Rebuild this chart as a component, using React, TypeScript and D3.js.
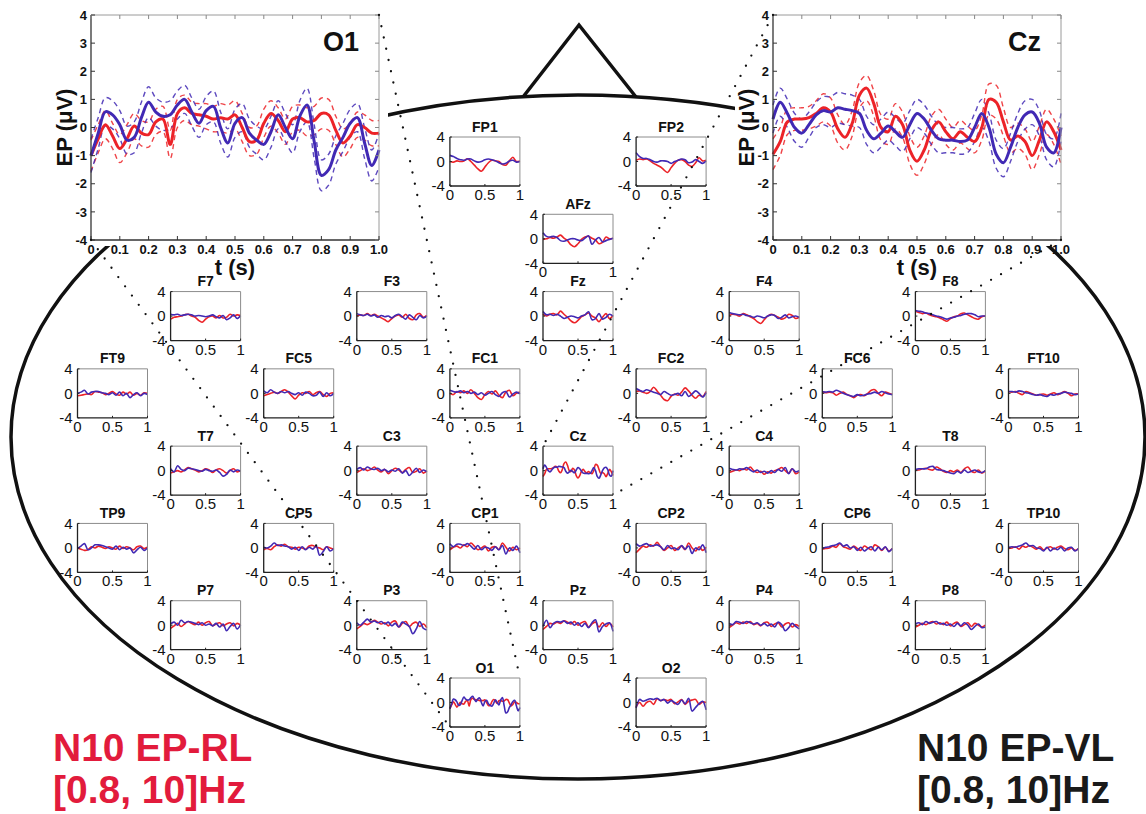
import React from 'react';
import * as d3 from 'd3';

// ---- data ----------------------------------------------------------------
// sample times (s)
const miniTimes = [0, 0.05, 0.1, 0.15, 0.2, 0.25, 0.3, 0.35, 0.4, 0.45, 0.5,
  0.55, 0.6, 0.65, 0.7, 0.75, 0.8, 0.85, 0.9, 0.95, 1];
const insetTimes = [0, 0.025, 0.05, 0.075, 0.1, 0.125, 0.15, 0.175, 0.2, 0.225,
  0.25, 0.275, 0.3, 0.325, 0.35, 0.375, 0.4, 0.425, 0.45, 0.475, 0.5, 0.525,
  0.55, 0.575, 0.6, 0.625, 0.65, 0.675, 0.7, 0.725, 0.75, 0.775, 0.8, 0.825,
  0.85, 0.875, 0.9, 0.925, 0.95, 0.975, 1];

// enlarged channels: mean EP (uV) and half width of the dashed band
const o1Blue = [-1.0, -0.2, 0.56, 0.45, 0.1, -0.45, -0.35, 0.35, 0.9, 0.55, 0.4, 0.45, 0.8, 1.0, 0.55, 0.15, 0.6, 0.75, 0.0, -0.55, 0.15, 0.35, -0.2, -0.45, -0.6, -0.15, 0.45, 0.0, -0.4, 0.4, 0.8, -0.5, -1.7, -1.5, -0.8, -0.35, 0.15, 0.35, -0.55, -1.35, -0.8];
const o1Red = [-1.0, -0.4, 0.1, -0.3, -0.75, -0.4, 0.05, -0.2, -0.25, 0.2, 0.3, -0.6, 0.5, 0.7, 0.5, 0.45, 0.4, 0.3, 0.35, 0.3, 0.45, 0.0, -0.5, -0.45, 0.15, 0.5, 0.25, -0.15, 0.3, 0.35, 0.2, 0.25, 0.5, 0.45, -0.1, -0.55, -0.3, 0.1, 0.0, -0.2, -0.2];
const o1BlueHw = [0.6, 0.55, 0.5, 0.5, 0.5, 0.5, 0.55, 0.55, 0.55, 0.5, 0.5, 0.5, 0.5, 0.5, 0.5, 0.5, 0.5, 0.55, 0.55, 0.5, 0.5, 0.5, 0.5, 0.5, 0.55, 0.55, 0.5, 0.5, 0.5, 0.55, 0.6, 0.6, 0.55, 0.55, 0.5, 0.5, 0.5, 0.5, 0.55, 0.55, 0.6];
const o1RedHw = [0.55, 0.5, 0.5, 0.45, 0.5, 0.5, 0.45, 0.45, 0.45, 0.45, 0.45, 0.5, 0.5, 0.45, 0.4, 0.4, 0.45, 0.45, 0.5, 0.5, 0.5, 0.5, 0.5, 0.5, 0.5, 0.45, 0.45, 0.45, 0.45, 0.45, 0.5, 0.5, 0.55, 0.55, 0.5, 0.5, 0.45, 0.45, 0.45, 0.45, 0.45];
const czBlue = [0.3, 0.9, 0.5, 0.0, -0.2, 0.1, 0.45, 0.6, 0.55, 0.7, 0.65, 0.6, 0.5, -0.1, -0.4, -0.2, 0.05, -0.15, -0.35, 0.1, 0.5, 0.3, -0.1, -0.4, -0.45, -0.45, -0.5, -0.45, 0.0, 0.5, 0.0, -0.95, -1.25, -0.7, 0.0, 0.45, 0.55, 0.15, -0.7, -0.9, 0.0];
const czRed = [-0.95, -0.5, 0.2, 0.3, 0.3, 0.35, 0.5, 0.7, 0.55, -0.05, -0.35, 0.15, 1.15, 1.4, 0.85, 0.0, -0.15, 0.4, 0.1, -0.8, -1.2, -0.8, -0.1, 0.2, -0.15, -0.4, -0.15, -0.35, -0.5, 0.0, 1.0, 0.9, 0.2, -0.45, -0.3, -0.5, -1.0, -0.45, 0.2, -0.15, -0.8];
const czBlueHw = [0.5, 0.5, 0.5, 0.5, 0.5, 0.45, 0.45, 0.5, 0.55, 0.55, 0.55, 0.55, 0.5, 0.5, 0.5, 0.5, 0.5, 0.5, 0.5, 0.5, 0.5, 0.5, 0.5, 0.5, 0.45, 0.45, 0.45, 0.45, 0.5, 0.5, 0.5, 0.5, 0.5, 0.5, 0.5, 0.5, 0.45, 0.45, 0.45, 0.5, 0.5];
const czRedHw = [0.55, 0.5, 0.45, 0.4, 0.4, 0.4, 0.45, 0.5, 0.5, 0.5, 0.45, 0.45, 0.45, 0.45, 0.45, 0.45, 0.45, 0.45, 0.45, 0.5, 0.5, 0.5, 0.5, 0.45, 0.45, 0.4, 0.4, 0.4, 0.4, 0.45, 0.55, 0.6, 0.5, 0.45, 0.45, 0.45, 0.5, 0.5, 0.45, 0.45, 0.5];

// all other channels (uV at miniTimes)
const fp1Blue = [1.0, 0.8, 0.5, 0.3, 0.2, 0.4, 0.4, 0.1, -0.1, 0.0, 0.3, 0.4, 0.3, 0.1, -0.2, -0.4, -0.3, 0.1, 0.2, -0.1, 0.0];
const fp1Red = [0.0, -0.1, 0.1, 0.0, 0.1, 0.45, 0.0, -0.6, -1.2, -1.6, -0.9, -0.2, 0.2, 0.1, 0.0, -0.5, -0.6, 0.1, 0.7, 0.0, 0.1];
const fp2Blue = [1.45, 0.8, 0.5, 0.5, 0.3, 0.0, -0.1, 0.1, 0.1, 0.0, -0.3, 0.0, 0.2, 0.4, 0.3, -0.2, -0.1, 0.3, 0.0, -0.3, 0.1];
const fp2Red = [0.2, 0.4, 0.3, 0.4, 0.1, -0.3, -0.6, -0.9, -1.4, -1.8, -1.0, -0.3, 0.2, 0.3, 0.0, -0.6, -0.8, -0.2, 0.6, 0.1, 0.2];
const afzBlue = [1.0, 0.4, 0.3, 0.4, 0.2, -0.3, -0.4, -0.2, 0.0, 0.0, -0.2, -0.3, 0.1, 0.5, -0.9, -0.2, 0.2, -0.5, -0.3, -0.1, 0.1];
const afzRed = [-0.1, 0.0, 0.2, 0.1, 0.3, 0.6, 0.1, -0.3, -1.0, -1.3, -0.8, -0.1, 0.3, 0.4, 0.1, -0.2, -0.8, -0.6, 0.3, 0.0, 0.1];
const f7Blue = [0.3, 0.2, 0.3, 0.1, 0.2, 0.3, 0.2, 0.0, 0.1, 0.0, -0.1, 0.0, 0.2, -0.1, -0.3, 0.1, -0.6, -0.3, 0.2, -0.4, 0.1];
const f7Red = [-0.5, -0.2, -0.1, 0.0, 0.2, 0.3, 0.0, -0.2, -0.7, -1.0, -0.5, -0.1, 0.0, -0.3, 0.1, -0.3, -0.2, 0.3, 0.0, 0.2, 0.1];
const f3Blue = [0.4, 0.2, 0.1, 0.3, 0.0, 0.2, -0.2, 0.1, -0.1, 0.0, -0.3, 0.1, 0.3, -0.1, -0.5, 0.2, -0.2, -0.6, 0.1, -0.3, 0.0];
const f3Red = [0.0, 0.2, 0.1, 0.4, 0.1, 0.3, 0.0, -0.3, -0.6, -0.9, -0.4, 0.0, 0.2, -0.2, 0.3, -0.4, -0.6, 0.2, 0.4, -0.2, 0.1];
const fzBlue = [0.75, 0.2, 0.3, 0.1, 0.3, 0.0, -0.4, -0.2, 0.0, -0.1, -0.3, 0.0, 0.2, 0.7, -0.6, -0.4, 0.4, -0.5, -0.2, 0.3, 0.0];
const fzRed = [0.3, 0.0, 0.3, 0.4, 0.2, 0.8, 0.3, -0.2, -0.8, -1.1, -0.7, -0.1, 0.2, 0.5, 0.0, -0.3, -0.9, -0.2, 0.4, -0.4, 0.1];
const f4Blue = [0.6, 0.4, 0.3, 0.2, 0.3, 0.1, 0.0, -0.2, 0.0, -0.1, -0.3, 0.0, 0.2, 0.1, -0.4, -0.2, 0.2, -0.3, -0.1, 0.0, -0.2];
const f4Red = [0.1, 0.3, 0.2, 0.0, 0.4, 0.2, -0.1, -0.4, -0.9, -1.2, -0.6, 0.0, 0.3, 0.1, -0.2, -0.5, -0.3, 0.3, 0.1, -0.4, -0.2];
const f8Blue = [0.9, 0.8, 0.7, 0.5, 0.4, 0.2, 0.0, -0.1, -0.3, -0.5, -0.3, -0.2, 0.0, 0.1, 0.3, 0.4, 0.4, 0.2, -0.1, 0.0, 0.0];
const f8Red = [0.8, 0.6, 0.4, 0.5, 0.2, 0.0, -0.1, -0.3, -0.6, -0.85, -0.4, -0.1, 0.0, 0.4, 0.5, 0.2, -0.1, -0.4, -0.5, -0.1, 0.0];
const ft9Blue = [0.0, 0.2, 0.5, -0.1, 0.2, 0.3, 0.3, 0.1, 0.0, -0.2, 0.1, -0.3, 0.2, -0.4, 0.0, -0.7, -0.2, 0.1, -0.4, 0.0, -0.2];
const ft9Red = [-0.4, -0.3, -0.2, -0.1, -0.2, 0.3, 0.2, 0.1, -0.2, 0.0, 0.3, -0.1, -0.3, 0.2, -0.1, 0.2, -0.3, 0.0, -0.3, 0.1, 0.0];
const fc5Blue = [0.4, 0.1, 0.6, 0.2, 0.0, 0.3, 0.1, 0.3, 0.0, -0.2, 0.1, -0.3, 0.2, 0.0, -0.4, -0.3, 0.2, -0.5, 0.1, -0.4, 0.0];
const fc5Red = [-0.4, -0.2, 0.0, 0.2, 0.0, 0.3, 0.6, 0.2, -0.4, -0.9, -0.3, 0.1, 0.0, 0.3, -0.2, 0.1, 0.3, -0.2, -0.5, 0.0, 0.1];
const fc1Blue = [0.5, 0.3, 0.2, 0.4, 0.1, 0.3, 0.0, 0.2, -0.2, 0.1, -0.3, 0.0, 0.3, -0.2, -0.5, 0.1, 0.3, -0.6, -0.1, 0.2, -0.1];
const fc1Red = [0.0, -0.2, 0.3, 0.1, 0.4, 0.0, 0.6, 0.0, -0.7, -1.0, -0.2, 0.3, -0.1, 0.4, -0.3, -0.7, 0.2, 0.5, -0.4, 0.0, 0.2];
const fc2Blue = [0.8, 0.5, 0.3, 0.6, 0.4, 0.2, 0.0, -0.2, 0.3, 0.0, -0.3, -0.2, 0.0, -0.4, 0.3, -0.5, -0.1, 0.4, 0.0, -0.6, 0.1];
const fc2Red = [0.3, 0.4, 0.2, 0.0, 0.3, 1.0, 0.4, -0.3, -1.0, -1.2, -0.5, -0.1, -0.3, 0.2, 0.9, 0.4, -0.3, -0.8, -0.3, -0.5, 0.3];
const fc6Blue = [0.3, 0.2, 0.3, 0.2, 0.5, 0.3, 0.0, -0.2, -0.4, -0.5, -0.2, -0.4, -0.3, -0.1, 0.0, 0.2, 0.0, 0.3, 0.1, -0.1, -0.2];
const fc6Red = [0.3, 0.1, 0.2, 0.1, -0.3, 0.0, 0.2, -0.2, -0.4, -0.7, -0.3, -0.2, -0.4, 0.0, 0.5, 0.6, 0.0, -0.4, 0.2, 0.0, -0.2];
const ft10Blue = [0.3, 0.3, 0.2, 0.4, 0.3, 0.1, 0.0, -0.2, -0.3, -0.2, -0.4, -0.5, -0.2, -0.3, -0.1, 0.0, 0.2, 0.1, 0.0, -0.2, -0.1];
const ft10Red = [0.3, 0.2, 0.3, 0.0, -0.2, 0.3, 0.1, -0.1, -0.3, -0.2, -0.1, -0.3, -0.1, 0.1, -0.2, 0.0, 0.3, 0.0, -0.4, -0.1, -0.1];
const t7Blue = [0.3, -0.2, 0.8, 0.2, 0.0, 0.4, 0.3, 0.2, 0.0, -0.1, 0.2, 0.0, -0.1, 0.1, -0.3, -0.9, -0.6, 0.1, -0.2, 0.1, -0.1];
const t7Red = [-0.4, -0.2, 0.0, -0.2, 0.1, 0.5, 0.3, 0.1, -0.2, 0.0, 0.3, 0.1, -0.3, 0.1, 0.3, 0.0, -0.4, 0.0, 0.3, -0.2, 0.0];
const c3Blue = [0.2, 0.5, 0.1, 0.6, 0.3, 0.2, 0.4, 0.0, 0.2, -0.2, 0.1, -0.1, 0.3, -0.4, 0.0, -0.8, -0.2, 0.4, -0.3, 0.1, -0.2];
const c3Red = [-0.3, 0.0, 0.3, 0.0, 0.2, 0.6, 0.1, -0.2, 0.2, -0.5, 0.0, 0.4, 0.1, -0.3, 0.2, 0.5, -0.3, -0.1, 0.3, -0.4, 0.0];
const c4Blue = [0.4, 0.2, 0.1, 0.3, 0.2, 0.5, 0.1, -0.2, 0.1, -0.3, -0.1, -0.4, 0.0, -0.3, 0.2, -0.1, 0.5, -0.5, 0.3, -0.2, 0.0];
const c4Red = [-0.3, -0.1, 0.1, 0.0, 0.3, 0.1, 0.6, 0.0, -0.3, -0.1, -0.6, -0.2, -0.4, 0.0, 0.2, 0.5, 0.0, -0.4, 0.3, -0.5, -0.2];
const t8Blue = [0.2, 0.3, 0.3, 0.3, 0.6, 0.7, 0.2, 0.1, 0.0, -0.2, -0.4, -0.5, -0.1, -0.4, 0.1, -0.3, -0.1, 0.1, -0.2, -0.3, 0.0];
const t8Red = [0.2, 0.1, 0.3, 0.4, 0.2, 0.1, 0.6, 0.3, -0.1, -0.3, 0.0, -0.2, 0.1, -0.3, 0.3, 0.6, -0.1, -0.3, 0.1, -0.4, 0.0];
const tp9Blue = [-0.1, 0.3, 0.7, -0.3, 0.0, 0.5, 0.5, 0.4, 0.2, 0.0, -0.2, 0.3, -0.3, 0.1, -0.2, 0.0, -0.8, -0.3, 0.1, -0.4, 0.0];
const tp9Red = [0.0, -0.2, -0.4, -0.3, 0.2, 0.0, 0.3, 0.1, -0.1, 0.2, 0.0, -0.2, 0.3, -0.1, 0.2, 0.0, -0.3, 0.2, 0.3, -0.1, 0.1];
const cp5Blue = [0.1, 0.0, 0.3, 0.8, 0.4, 0.5, 0.3, 0.2, -0.2, 0.1, -0.4, 0.2, -0.3, 0.1, -0.2, 0.3, -1.2, -0.6, 0.2, -0.5, -0.1];
const cp5Red = [-0.3, -0.1, -0.3, 0.2, 0.5, 0.3, 0.6, 0.2, 0.1, -0.2, 0.1, 0.0, -0.2, 0.3, 0.4, 0.1, 0.0, -0.3, 0.2, 0.0, -0.2];
const cp1Blue = [0.7, 0.2, 0.6, 0.6, 0.4, 0.7, 0.3, -0.2, 0.4, -0.3, 0.1, 0.0, -0.4, 0.2, -0.3, 0.4, -1.0, 0.0, -0.4, 0.3, -0.8];
const cp1Red = [-0.3, 0.1, 0.3, 0.0, 0.5, 0.2, 0.8, 0.3, -0.3, 0.0, 0.3, -0.5, 0.1, 0.2, -0.3, 0.8, 0.1, -0.5, 0.1, -0.3, 0.0];
const cp2Blue = [0.7, 0.3, 0.5, 0.7, 0.3, 0.4, 0.5, 0.2, -0.3, 0.4, -0.1, 0.0, -0.3, 0.4, -0.2, 0.3, -0.9, 0.0, -0.3, 0.5, -0.8];
const cp2Red = [-0.8, -0.2, 0.3, 0.1, 0.5, 0.3, 0.9, 0.2, -0.4, 0.0, 0.4, -0.4, 0.0, 0.3, -0.3, 0.8, 0.0, -0.5, 0.2, -0.4, 0.1];
const cp6Blue = [-0.1, 0.1, 0.2, 0.4, 0.5, 0.8, 0.3, 0.5, 0.0, 0.2, -0.4, 0.1, -0.5, -0.1, 0.2, -0.5, 0.1, -0.3, 0.2, -0.6, -0.1];
const cp6Red = [-0.2, -0.1, 0.0, 0.3, 0.1, 0.7, 0.2, 0.0, -0.2, 0.3, -0.1, -0.4, 0.3, 0.0, -0.3, 0.5, 0.2, -0.4, 0.1, -0.5, -0.1];
const tp10Blue = [0.1, 0.2, 0.1, 0.3, 0.5, 0.8, 0.3, 0.4, 0.0, -0.1, -0.5, 0.1, -0.5, 0.0, -0.3, 0.1, -0.5, 0.0, 0.1, -0.5, -0.1];
const tp10Red = [-0.1, 0.0, 0.2, -0.2, 0.3, 0.1, 0.4, 0.1, -0.2, 0.2, -0.3, 0.0, 0.2, -0.2, 0.1, 0.3, -0.1, -0.3, 0.0, -0.4, -0.1];
const p7Blue = [0.2, 0.5, 0.0, 0.8, 0.4, 0.6, 0.5, 0.3, 0.1, 0.4, 0.0, 0.2, -0.1, 0.3, -0.3, 0.2, -0.9, -0.2, 0.3, -0.6, 0.1];
const p7Red = [-0.5, -0.1, 0.3, -0.2, 0.2, 0.6, 0.3, 0.1, 0.5, 0.0, 0.4, 0.6, -0.1, 0.2, 0.4, -0.1, 0.2, 0.4, -0.1, 0.3, 0.0];
const p3Blue = [0.4, 0.0, 0.5, 1.0, 0.5, 0.7, 0.4, 0.6, 0.2, 0.5, -0.1, 0.3, -0.3, 0.5, 0.2, -0.2, -1.4, -0.6, 0.6, -0.5, -0.8];
const p3Red = [-0.6, -0.2, 0.3, 0.1, 0.4, 0.8, 0.5, 0.2, 0.4, -0.1, 0.5, 0.7, -0.3, 0.3, 0.6, -0.2, 0.3, 0.5, -0.2, 0.2, -0.4];
const pzBlue = [-0.2, 0.8, -0.4, 0.3, 0.6, 0.5, 0.7, 0.3, 0.5, 0.0, 0.4, -0.2, 0.3, -0.4, 0.4, 0.9, -1.1, -0.2, 0.2, 0.4, -1.0];
const pzRed = [-0.7, -0.2, 0.3, 0.2, 0.5, 0.3, 0.7, 0.5, 0.2, 0.6, 0.0, 0.4, 0.6, -0.3, 0.2, 0.5, -0.3, 0.4, -0.2, 0.3, -0.3];
const p4Blue = [0.3, 0.1, 0.6, 0.5, 0.3, 0.6, 0.4, 0.2, 0.4, 0.0, 0.3, -0.1, 0.2, -0.3, 0.5, 0.1, -0.9, -0.4, 0.3, -0.2, -0.6];
const p4Red = [-0.4, 0.0, 0.4, 0.2, 0.5, 0.3, 0.6, 0.1, 0.3, -0.1, 0.4, 0.5, -0.2, 0.2, 0.4, -0.3, 0.2, 0.4, -0.3, 0.1, -0.2];
const p8Blue = [0.2, 0.4, 0.1, 0.6, 0.3, 0.5, 0.6, 0.2, 0.3, 0.0, 0.2, -0.2, 0.3, -0.1, 0.4, 0.0, -0.7, -0.2, 0.2, -0.4, -0.3];
const p8Red = [-0.3, 0.0, 0.3, 0.1, 0.4, 0.6, 0.2, 0.4, 0.1, 0.5, -0.1, 0.3, 0.5, -0.2, 0.1, 0.4, -0.2, 0.3, 0.0, -0.3, 0.0];
const o2Blue = [-0.9, 0.5, 0.2, 0.4, 0.6, 0.5, 0.7, 0.3, 0.5, -0.1, 0.3, 0.0, -0.3, 0.4, -0.2, 0.7, -1.4, -0.8, -0.2, 0.2, -1.2];
const o2Red = [-0.7, 0.0, -0.6, 0.0, 0.2, -0.3, 0.6, 0.3, 0.5, 0.3, 0.5, -0.2, 0.1, 0.5, -0.3, 0.2, 0.4, 0.5, -0.3, 0.1, 0.0];

const yTicksMini = [-4, 0, 4];
const xTicksMini = [0, 0.5, 1];
const yTicksInset = [-4, -3, -2, -1, 0, 1, 2, 3, 4];
const xTicksInset = [0, 0.1, 0.2, 0.3, 0.4, 0.5, 0.6, 0.7, 0.8, 0.9, 1.0];

// channel name, grid row, grid column, red (RL), blue (VL)
const channels: [string, number, number, number[], number[]][] = [
  ['FP1', 0, 4, fp1Red, fp1Blue], ['FP2', 0, 6, fp2Red, fp2Blue],
  ['AFz', 1, 5, afzRed, afzBlue],
  ['F7', 2, 1, f7Red, f7Blue], ['F3', 2, 3, f3Red, f3Blue], ['Fz', 2, 5, fzRed, fzBlue],
  ['F4', 2, 7, f4Red, f4Blue], ['F8', 2, 9, f8Red, f8Blue],
  ['FT9', 3, 0, ft9Red, ft9Blue], ['FC5', 3, 2, fc5Red, fc5Blue], ['FC1', 3, 4, fc1Red, fc1Blue],
  ['FC2', 3, 6, fc2Red, fc2Blue], ['FC6', 3, 8, fc6Red, fc6Blue], ['FT10', 3, 10, ft10Red, ft10Blue],
  ['T7', 4, 1, t7Red, t7Blue], ['C3', 4, 3, c3Red, c3Blue], ['Cz', 4, 5, czRed, czBlue],
  ['C4', 4, 7, c4Red, c4Blue], ['T8', 4, 9, t8Red, t8Blue],
  ['TP9', 5, 0, tp9Red, tp9Blue], ['CP5', 5, 2, cp5Red, cp5Blue], ['CP1', 5, 4, cp1Red, cp1Blue],
  ['CP2', 5, 6, cp2Red, cp2Blue], ['CP6', 5, 8, cp6Red, cp6Blue], ['TP10', 5, 10, tp10Red, tp10Blue],
  ['P7', 6, 1, p7Red, p7Blue], ['P3', 6, 3, p3Red, p3Blue], ['Pz', 6, 5, pzRed, pzBlue],
  ['P4', 6, 7, p4Red, p4Blue], ['P8', 6, 9, p8Red, p8Blue],
  ['O1', 7, 4, o1Red, o1Blue], ['O2', 7, 6, o2Red, o2Blue],
];

// ---- style / layout ------------------------------------------------------
const FONT = '"Liberation Sans", Arial, Helvetica, sans-serif';
const RED = '#ec2328';
const BLUE = '#4129b4';
const TEXT_RED = '#e21b3c';
const MINI_W = 70;
const MINI_H = 49;
const INSET_W = 288;
const INSET_H = 225;

const colX = d3.scaleLinear().domain([0, 10]).range([77.5, 1008.5]);
const rowY = d3.scaleLinear().domain([0, 7]).range([137, 678]);

const fmtInset = (d: number) => (d === 0 ? '0' : d3.format('.1f')(d));
const fmtMini = (d: number) => String(d);

function MiniPlot({ name, x, y, red, blue, crowded }:
  { name: string; x: number; y: number; red: number[]; blue: number[]; crowded: boolean }) {
  const sx = d3.scaleLinear().domain([0, 1]).range([x, x + MINI_W]);
  const sy = d3.scaleLinear().domain([-4, 4]).range([y + MINI_H, y]);
  const mk = (vals: number[]) => {
    const times = vals.length === insetTimes.length ? insetTimes : miniTimes;
    return d3.line<number>().x((_, i) => sx(times[i])).y(d => sy(d)).curve(d3.curveCatmullRom)(vals) || '';
  };
  // the title of the plot below hides the middle x label
  const xLabels = crowded ? xTicksMini.filter(t => t !== 0.5) : xTicksMini;
  return (
    <g>
      <rect x={x} y={y} width={MINI_W} height={MINI_H} fill="#fff" />
      <path d={mk(red)} fill="none" stroke={RED} strokeWidth={1.6} />
      <path d={mk(blue)} fill="none" stroke={BLUE} strokeWidth={1.6} />
      <line x1={x} x2={x + MINI_W} y1={y} y2={y} stroke="#8c8c8c" strokeWidth={1} />
      <line x1={x + MINI_W} x2={x + MINI_W} y1={y} y2={y + MINI_H} stroke="#8c8c8c" strokeWidth={1} />
      <line x1={x} x2={x} y1={y} y2={y + MINI_H} stroke="#222" strokeWidth={1.3} />
      <line x1={x} x2={x + MINI_W} y1={y + MINI_H} y2={y + MINI_H} stroke="#222" strokeWidth={1.3} />
      {xTicksMini.map(t => (
        <line key={'xt' + t} x1={sx(t)} x2={sx(t)} y1={y + MINI_H} y2={y + MINI_H - 2} stroke="#222" />
      ))}
      {xLabels.map(t => (
        <text key={'x' + t} x={sx(t)} y={y + MINI_H + 14} textAnchor="middle" fontSize={15} fill="#111">{fmtMini(t)}</text>
      ))}
      {yTicksMini.map(v => (
        <g key={'y' + v}>
          <line x1={x} x2={x + 2} y1={sy(v)} y2={sy(v)} stroke="#222" />
          <text x={x - 5} y={sy(v) + 5.3} textAnchor="end" fontSize={15} fill="#111">{fmtMini(v)}</text>
        </g>
      ))}
      <text x={x + MINI_W / 2} y={y - 5.5} textAnchor="middle" fontSize={14} fontWeight="bold" fill="#111">{name}</text>
    </g>
  );
}

function Inset({ name, x, y, red, redHw, blue, blueHw }:
  { name: string; x: number; y: number; red: number[]; redHw: number[]; blue: number[]; blueHw: number[] }) {
  const sx = d3.scaleLinear().domain([0, 1]).range([x, x + INSET_W]);
  const sy = d3.scaleLinear().domain([-4, 4]).range([y + INSET_H, y]);
  const mk = (vals: number[]) =>
    d3.line<number>().x((_, i) => sx(insetTimes[i])).y(d => sy(d)).curve(d3.curveCatmullRom)(vals) || '';
  const band = (mean: number[], hw: number[], sign: number) => mk(mean.map((m, i) => m + sign * hw[i]));
  const dash = { fill: 'none', strokeWidth: 1.4, strokeDasharray: '5 4' };
  return (
    <g>
      <rect x={x - 38} y={0} width={INSET_W + 47} height={y + INSET_H + 6} fill="#fff" />
      <path d={band(red, redHw, 1)} stroke={RED} {...dash} opacity={0.85} />
      <path d={band(red, redHw, -1)} stroke={RED} {...dash} opacity={0.85} />
      <path d={band(blue, blueHw, 1)} stroke={BLUE} {...dash} opacity={0.85} />
      <path d={band(blue, blueHw, -1)} stroke={BLUE} {...dash} opacity={0.85} />
      <path d={mk(red)} fill="none" stroke={RED} strokeWidth={3} />
      <path d={mk(blue)} fill="none" stroke={BLUE} strokeWidth={3} />
      <line x1={x} x2={x + INSET_W} y1={y} y2={y} stroke="#9a9a9a" />
      <line x1={x + INSET_W} x2={x + INSET_W} y1={y} y2={y + INSET_H} stroke="#9a9a9a" />
      <line x1={x} x2={x} y1={y} y2={y + INSET_H} stroke="#333" strokeWidth={1.3} />
      <line x1={x} x2={x + INSET_W} y1={y + INSET_H} y2={y + INSET_H} stroke="#333" strokeWidth={1.3} />
      {yTicksInset.map(v => (
        <g key={'y' + v}>
          <line x1={x} x2={x + 4} y1={sy(v)} y2={sy(v)} stroke="#333" />
          <line x1={x + INSET_W} x2={x + INSET_W - 4} y1={sy(v)} y2={sy(v)} stroke="#888" />
          <text x={x - 4} y={sy(v) + 4.7} textAnchor="end" fontSize={13} fontWeight="bold" fill="#111">{v}</text>
        </g>
      ))}
      {xTicksInset.map(t => (
        <g key={'x' + t}>
          <line x1={sx(t)} x2={sx(t)} y1={y + INSET_H} y2={y + INSET_H - 4} stroke="#333" />
          <line x1={sx(t)} x2={sx(t)} y1={y} y2={y + 4} stroke="#888" />
          <text x={sx(t)} y={y + INSET_H + 14} textAnchor="middle" fontSize={13} fontWeight="bold" fill="#111">{fmtInset(t)}</text>
        </g>
      ))}
      <text x={x + INSET_W / 2} y={y + INSET_H + 35} textAnchor="middle" fontSize={22} fontWeight="bold" fill="#111">t (s)</text>
      <text transform={`translate(${x - 19},${y + INSET_H / 2}) rotate(-90)`} textAnchor="middle" fontSize={22} fontWeight="bold" fill="#111">EP (μV)</text>
      <text x={x + INSET_W - 20} y={y + 36} textAnchor="end" fontSize={27} fontWeight="bold" fill="#111">{name}</text>
    </g>
  );
}

export default function App() {
  const head = { cx: 578, cy: 437, rx: 567, ry: 342 };
  const top = head.cy - head.ry;
  const nose = d3.line()([[head.cx - 55, top + 2], [head.cx + 1, top - 70], [head.cx + 58, top + 2]]) || '';

  const o1Inset = { x: 91, y: 15 };
  const czInset = { x: 773, y: 15 };
  const o1Mini = { x: colX(4), y: rowY(7) };
  const czMini = { x: colX(5), y: rowY(4) };

  const connectors = [
    [o1Inset.x, o1Inset.y + INSET_H, o1Mini.x, o1Mini.y + MINI_H],
    [o1Inset.x + INSET_W, o1Inset.y, o1Mini.x + MINI_W, o1Mini.y],
    [czInset.x, czInset.y, czMini.x, czMini.y],
    [czInset.x + INSET_W, czInset.y + INSET_H, czMini.x + MINI_W, czMini.y + MINI_H],
  ];

  const occupied = new Set(channels.map(([, r, c]) => `${r}-${c}`));

  return (
    <svg width={1146} height={814} style={{ display: 'block' }} fontFamily={FONT}>
      <style>{'body{margin:0}'}</style>
      <rect width={1146} height={814} fill="#fff" />
      <ellipse cx={head.cx} cy={head.cy} rx={head.rx} ry={head.ry} fill="none" stroke="#111" strokeWidth={3.5} />
      <path d={nose} fill="none" stroke="#111" strokeWidth={3.5} strokeLinejoin="miter" />

      <Inset name="O1" x={o1Inset.x} y={o1Inset.y} red={o1Red} redHw={o1RedHw} blue={o1Blue} blueHw={o1BlueHw} />
      <Inset name="Cz" x={czInset.x} y={czInset.y} red={czRed} redHw={czRedHw} blue={czBlue} blueHw={czBlueHw} />

      {channels.map(([name, r, c, red, blue]) => (
        <MiniPlot key={name} name={name} x={colX(c)} y={rowY(r)} red={red} blue={blue}
          crowded={occupied.has(`${r + 1}-${c}`)} />
      ))}

      {connectors.map((p, i) => (
        <line key={i} x1={p[0]} y1={p[1]} x2={p[2]} y2={p[3]} stroke="#111" strokeWidth={2.3}
          strokeDasharray="0 11.5" strokeLinecap="round" />
      ))}

      <g fontWeight="bold" fontSize={39}>
        <text x={53} y={761} fill={TEXT_RED}>N10 EP-RL</text>
        <text x={53} y={803} fill={TEXT_RED}>[0.8, 10]Hz</text>
        <text x={917} y={761} fill="#1a1a1a">N10 EP-VL</text>
        <text x={917} y={803} fill="#1a1a1a">[0.8, 10]Hz</text>
      </g>
    </svg>
  );
}
